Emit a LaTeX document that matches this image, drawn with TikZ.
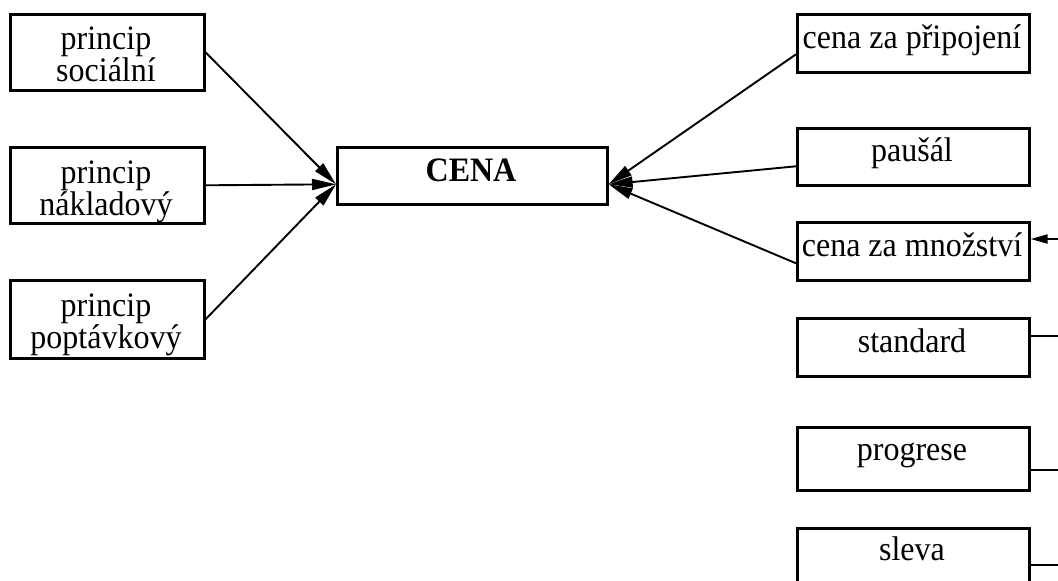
\documentclass[tikz,border=0pt]{standalone}
\usepackage{fontspec}
\setmainfont{Liberation Serif}
\usetikzlibrary{arrows.meta,calc}
\newcommand{\vst}[1]{\scalebox{1}[1.07]{#1}}
\begin{document}
\begin{tikzpicture}[x=1pt,y=-1pt,
  box/.style={draw, line width=2.6pt, inner sep=0pt, anchor=north west},
  txt/.style={anchor=base, inner sep=0pt, font=\fontsize{32}{35}\selectfont},
  conn/.style={line width=1.9pt, -{Triangle[length=24pt,width=11pt]}},
  conns/.style={line width=1.9pt, -{Triangle[length=17pt,width=9pt]}},
  plain/.style={line width=1.9pt}]
\useasboundingbox (0,0) rectangle (1058,581);
\clip (0,0) rectangle (1058,581);
% left boxes
\node[box, minimum width=194pt, minimum height=76pt] (ps) at (9,13) {};
\node[box, minimum width=194pt, minimum height=76pt] (pn) at (9,146) {};
\node[box, minimum width=194pt, minimum height=78pt] (pp) at (9,279) {};
\node[txt] (psa) at (106,49.5) {\vst{princip}};
\node[txt] (psb) at (106,81) {\vst{sociální}};
\node[txt] (pna) at (106,183) {\vst{princip}};
\node[txt] (pnb) at (106,215) {\vst{nákladový}};
\node[txt] (ppa) at (106,316) {\vst{princip}};
\node[txt] (ppb) at (106,348) {\vst{poptávkový}};
% centre
\node[box, minimum width=270pt, minimum height=57pt] (cena) at (336,146) {};
\node[txt, font=\fontsize{32}{35}\selectfont\bfseries] (cenat) at (471,181.7) {\vst{CENA}};
% right boxes
\node[box, minimum width=232pt, minimum height=58pt] (r1) at (796,13) {};
\node[box, minimum width=232pt, minimum height=57pt] (r2) at (796,127) {};
\node[box, minimum width=232pt, minimum height=58pt] (r3) at (796,221) {};
\node[box, minimum width=232pt, minimum height=58pt] (r4) at (796,317) {};
\node[box, minimum width=232pt, minimum height=63pt] (r5) at (796,426) {};
\node[box, minimum width=232pt, minimum height=80pt] (r6) at (796,527) {};
\node[txt] (r1t) at (912,48) {\vst{cena za připojení}};
\node[txt] (r2t) at (912,161.7) {\vst{paušál}};
\node[txt] (r3t) at (912,256) {\vst{cena za množství}};
\node[txt] (r4t) at (912,352) {\vst{standard}};
\node[txt] (r5t) at (912,460) {\vst{progrese}};
\node[txt] (r6t) at (912,560) {\vst{sleva}};
% connectors to CENA
\draw[conn] (ps.east) -- ([yshift=-8.5pt]cena.west);
\draw[conn] (pn.east) -- ([yshift=-8.5pt]cena.west);
\draw[conn] (pp.east) -- ([yshift=-8.5pt]cena.west);
\draw[conn] ([yshift=-11pt]r1.west) -- ([yshift=-8.5pt]cena.east);
\draw[conn] ([yshift=-9.5pt]r2.west) -- ([yshift=-8.5pt]cena.east);
\draw[conn] ([yshift=-12pt]r3.west) -- ([yshift=-8.5pt]cena.east);
% off-edge connectors
\coordinate (e3) at (1058,239);
\coordinate (e4) at (1058,336);
\coordinate (e5) at (1058,470);
\coordinate (e6) at (1058,565);
\draw[conns] (e3) -- (r3.east |- e3);
\draw[plain] (r4.east |- e4) -- (e4);
\draw[plain] (r5.east |- e5) -- (e5);
\draw[plain] (r6.east |- e6) -- (e6);
\end{tikzpicture}
\end{document}
